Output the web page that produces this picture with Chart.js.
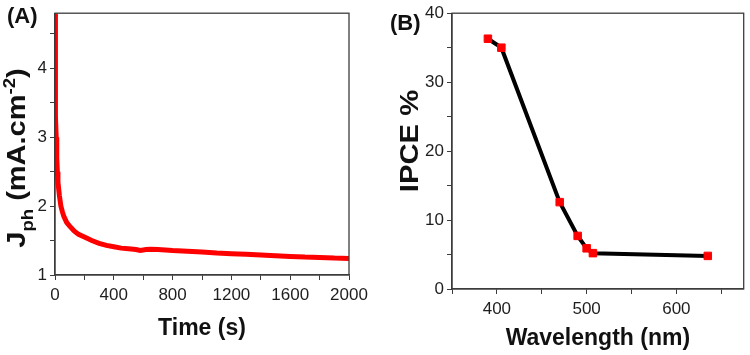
<!DOCTYPE html>
<html>
<head>
<meta charset="utf-8">
<script src="https://cdn.jsdelivr.net/npm/chart.js@4/dist/chart.umd.min.js"></script>
<style>
    html, body { margin: 0; padding: 0; background: #fff; }
    #wrap { position: relative; width: 750px; height: 355px; }
    .box { position: absolute; top: 0; width: 375px; height: 355px; }
</style>
</head>
<body>
<div id="wrap">
    <div class="box" style="left:0"><canvas id="graficaA" width="375" height="355"></canvas></div>
    <div class="box" style="left:375px"><canvas id="graficaB" width="375" height="355"></canvas></div>
</div>
<script>
// panel A: photocurrent vs time
const tiempo = [0, 1, 3, 5, 8, 12, 16, 20, 30, 40, 50, 60, 80, 100, 130, 160, 200, 250, 300, 350, 400,
    450, 500, 550, 580, 620, 650, 700, 800, 900, 1000, 1100, 1200, 1300, 1400, 1500, 1600, 1700, 1800, 1900, 2000];
const jph = [4.8, 4.4, 3.85, 3.3, 3.0, 2.7, 2.5, 2.35, 2.15, 2.0, 1.92, 1.85, 1.76, 1.71, 1.64, 1.59, 1.55, 1.5, 1.46, 1.43, 1.41,
    1.39, 1.38, 1.37, 1.355, 1.37, 1.375, 1.37, 1.355, 1.345, 1.335, 1.32, 1.31, 1.3, 1.29, 1.28, 1.27, 1.26, 1.255, 1.245, 1.24];
const ticksTiempo = [0, 200, 400, 600, 800, 1000, 1200, 1400, 1600, 1800, 2000];
const etiquetasTiempo = [0, 400, 800, 1200, 1600, 2000];
const ticksJ = [1, 1.5, 2, 2.5, 3, 3.5, 4, 4.5];
const etiquetasJ = [1, 2, 3, 4];

// panel B: IPCE vs wavelength
const longitudOnda = [390, 405, 470, 490, 500, 507, 635];
const ipce = [36.3, 35.0, 12.6, 7.7, 5.9, 5.2, 4.8];
const ticksOnda = [350, 400, 450, 500, 550, 600, 650];
const etiquetasOnda = [400, 500, 600];
const ticksIpce = [0, 5, 10, 15, 20, 25, 30, 35, 40];
const etiquetasIpce = [0, 10, 20, 30, 40];

const fuente = "'Liberation Sans', Arial, sans-serif";
const gris = "#3c3c3c";

function ejeBase(ticks, etiquetas, tamano, esX) {
    return {
        type: "linear",
        afterBuildTicks: s => { s.ticks = ticks.map(v => ({ value: v })); },
        afterFit: s => { if (esX) s.height = tamano; else s.width = tamano; },
        grid: { drawOnChartArea: false, drawTicks: true, tickLength: 5, color: gris, tickWidth: 1 },
        border: { color: gris, width: 1.3 },
        ticks: {
            padding: esX ? 5 : 3,
            color: "#1e1e1e",
            font: { family: fuente, size: 17 },
            maxRotation: 0,
            autoSkip: false,
            callback: v => etiquetas.includes(v) ? String(v) : ""
        }
    };
}

// marco superior y derecho + textos
function marcoYTextos(dibujar) {
    return {
        id: "marco",
        afterDraw(chart) {
            const a = chart.chartArea, ctx = chart.ctx;
            ctx.save();
            ctx.strokeStyle = gris;
            ctx.lineWidth = 1.3;
            ctx.strokeRect(a.left, a.top, a.right - a.left, a.bottom - a.top);
            ctx.fillStyle = "#111";
            dibujar(ctx, a);
            ctx.restore();
        }
    };
}

function textoVertical(ctx, x, yCentro, partes, estirar) {
    // partes: [texto, tamano, desplazamiento]
    ctx.save();
    ctx.translate(x, yCentro);
    ctx.rotate(-Math.PI / 2);
    ctx.scale(estirar, 1);
    let total = 0;
    partes.forEach(p => { ctx.font = "bold " + p[1] + "px " + fuente; total += ctx.measureText(p[0]).width; });
    let pos = -total / 2;
    ctx.textBaseline = "alphabetic";
    ctx.textAlign = "left";
    partes.forEach(p => {
        ctx.font = "bold " + p[1] + "px " + fuente;
        ctx.fillText(p[0], pos, p[2]);
        pos += ctx.measureText(p[0]).width;
    });
    ctx.restore();
}

new Chart(document.getElementById("graficaA"), {
    type: "scatter",
    data: {
        datasets: [{
            data: tiempo.map((t, i) => ({ x: t, y: jph[i] })),
            showLine: true,
            borderColor: "#ff0000",
            backgroundColor: "#ff0000",
            borderWidth: 5,
            pointRadius: 0
        }]
    },
    options: {
        responsive: false,
        animation: false,
        layout: { padding: { top: 2, right: 26, left: 0, bottom: 0 } },
        plugins: { legend: { display: false }, tooltip: { enabled: false } },
        scales: {
            x: { ...ejeBase(ticksTiempo, etiquetasTiempo, 80, true), min: 0, max: 2000 },
            y: { ...ejeBase(ticksJ, etiquetasJ, 55, false), min: 1, max: 4.8 }
        }
    },
    plugins: [marcoYTextos((ctx, a) => {
        ctx.font = "bold 22px " + fuente;
        ctx.textBaseline = "middle";
        ctx.textAlign = "left";
        ctx.fillText("(A)", 7, 17);
        ctx.font = "bold 23px " + fuente;
        ctx.textAlign = "center";
        ctx.textBaseline = "alphabetic";
        ctx.fillText("Time (s)", (a.left + a.right) / 2, 335);
        textoVertical(ctx, 25, 158, [
            ["J", 25, 0], ["ph", 16, 8], [" (mA.cm", 25, 0], ["-2", 16, -10], [")", 25, 0]
        ], 1.16);
    })]
});

new Chart(document.getElementById("graficaB"), {
    type: "scatter",
    data: {
        datasets: [{
            data: longitudOnda.map((w, i) => ({ x: w, y: ipce[i] })),
            showLine: true,
            borderColor: "#000000",
            borderWidth: 4,
            pointStyle: "rect",
            pointRadius: 5.3,
            pointBackgroundColor: "#ff0000",
            pointBorderColor: "#ff0000",
            pointBorderWidth: 1
        }]
    },
    options: {
        responsive: false,
        animation: false,
        layout: { padding: { top: 13, right: 3, left: 0, bottom: 0 } },
        plugins: { legend: { display: false }, tooltip: { enabled: false } },
        scales: {
            x: { ...ejeBase(ticksOnda, etiquetasOnda, 66, true), min: 350, max: 675 },
            y: { ...ejeBase(ticksIpce, etiquetasIpce, 77, false), min: 0, max: 40 }
        }
    },
    plugins: [marcoYTextos((ctx, a) => {
        ctx.font = "bold 22px " + fuente;
        ctx.textBaseline = "middle";
        ctx.textAlign = "left";
        ctx.fillText("(B)", 15, 24);
        ctx.font = "bold 23px " + fuente;
        ctx.textAlign = "center";
        ctx.textBaseline = "alphabetic";
        ctx.fillText("Wavelength (nm)", (a.left + a.right) / 2, 345);
        textoVertical(ctx, 43, 141, [["IPCE %", 25, 0]], 1.17);
    })]
});
</script>
</body>
</html>
